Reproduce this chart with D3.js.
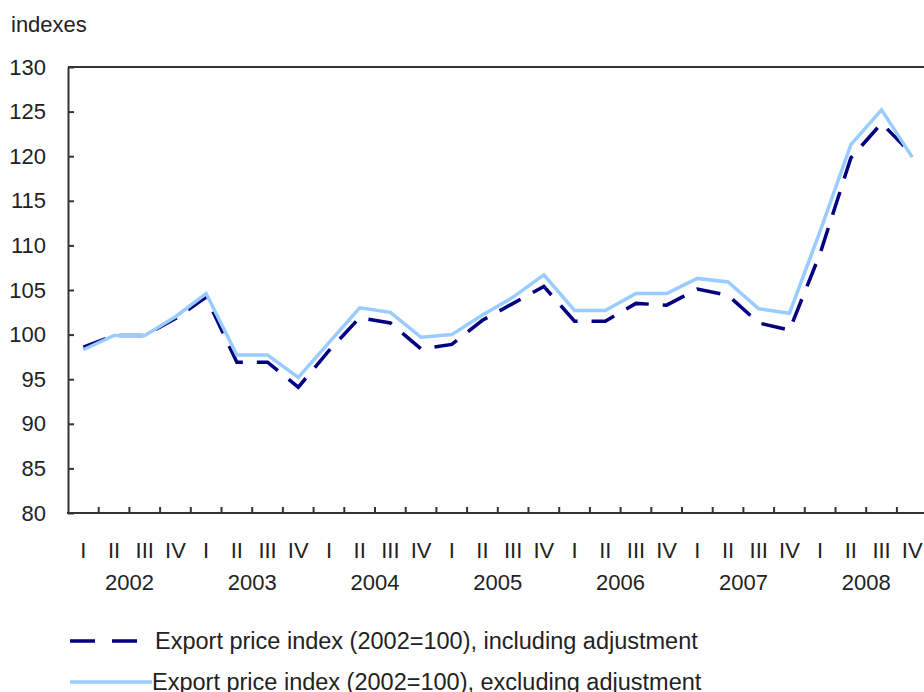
<!DOCTYPE html>
<html>
<head>
    <meta charset="utf-8">
    <script src="https://d3js.org/d3.v7.min.js"></script>
    <style type="text/css">
        body { margin: 0; background: #fff; }
        svg text { font-family: "Liberation Sans", Arial, sans-serif; fill: #222; }
    </style>
</head>
<body>
    <div id="chart"></div>

    <script type="text/javascript">
        // quarters 2002 I .. 2008 IV
        var years = ['2002', '2003', '2004', '2005', '2006', '2007', '2008'];
        var quarterNames = ['I', 'II', 'III', 'IV'];
        var yTicks = [80, 85, 90, 95, 100, 105, 110, 115, 120, 125, 130];

        var including = [98.6, 99.9, 99.9, 101.8, 104.2, 96.9, 96.9, 94.1,
                         98.2, 101.9, 101.3, 98.4, 98.9, 101.6, 103.5, 105.4,
                         101.5, 101.5, 103.5, 103.3, 105.1, 104.4, 101.3, 100.5,
                         109.1, 119.8, 123.7, 120.2];
        var excluding = [98.3, 99.9, 99.9, 102.0, 104.6, 97.7, 97.7, 95.2,
                         99.1, 103.0, 102.5, 99.7, 100.0, 102.2, 104.2, 106.7,
                         102.7, 102.7, 104.6, 104.6, 106.3, 105.9, 102.9, 102.4,
                         111.6, 121.3, 125.2, 119.9];

        var seriesNames = ['Export price index (2002=100), including adjustment',
                           'Export price index (2002=100), excluding adjustment'];

        var width = 924;
        var height = 692;
        var plotLeft = 68, plotTop = 67, plotBottom = 513;
        var band = 30.7;

        var svg = d3.select('#chart').append('svg')
            .attr('width', width)
            .attr('height', height);

        var n = including.length;

        var x = d3.scaleBand()
            .domain(d3.range(0, n))
            .range([plotLeft, plotLeft + n * band]);

        var y = d3.scaleLinear()
            .domain([80, 130])
            .range([plotBottom, plotTop]);

        // unit label
        svg.append('text')
            .attr('x', 11)
            .attr('y', 32)
            .style('font-size', '22px')
            .text('indexes');

        // y axis
        var yAxis = svg.append('g')
            .attr('transform', 'translate(' + plotLeft + ',0)')
            .call(d3.axisLeft(y).tickValues(yTicks).tickSizeInner(-6).tickSizeOuter(0).tickPadding(22));
        yAxis.select('.domain').attr('stroke', '#333').attr('stroke-width', 2);
        yAxis.selectAll('.tick line').attr('stroke', '#333').attr('stroke-width', 2);
        yAxis.selectAll('.tick text')
            .style('font-size', '22px')
            .attr('fill', '#222');

        // top frame
        svg.append('line')
            .attr('x1', plotLeft).attr('x2', width)
            .attr('y1', plotTop).attr('y2', plotTop)
            .attr('stroke', '#333').attr('stroke-width', 2);

        // bottom axis
        svg.append('line')
            .attr('x1', plotLeft - 1).attr('x2', width)
            .attr('y1', plotBottom).attr('y2', plotBottom)
            .attr('stroke', '#333').attr('stroke-width', 2);

        svg.selectAll('.xtick')
            .data(d3.range(1, n))
            .enter().append('line')
            .attr('class', 'xtick')
            .attr('x1', function(d){ return x(d); })
            .attr('x2', function(d){ return x(d); })
            .attr('y1', plotBottom)
            .attr('y2', plotBottom - 6)
            .attr('stroke', '#333').attr('stroke-width', 2);

        // quarter labels
        svg.selectAll('.qlab')
            .data(d3.range(0, n))
            .enter().append('text')
            .attr('class', 'qlab')
            .attr('x', function(d){ return x(d) + x.bandwidth() / 2; })
            .attr('y', 558)
            .attr('text-anchor', 'middle')
            .style('font-size', '22px')
            .text(function(d){ return quarterNames[d % 4]; });

        // year labels
        svg.selectAll('.ylab')
            .data(years)
            .enter().append('text')
            .attr('class', 'ylab')
            .attr('x', function(d, i){ return x(i * 4) + 2 * x.bandwidth(); })
            .attr('y', 590)
            .attr('text-anchor', 'middle')
            .style('font-size', '22px')
            .text(function(d){ return d; });

        var line = d3.line()
            .x(function(d, i){ return x(i) + x.bandwidth() / 2; })
            .y(function(d){ return y(d); });

        svg.append('path')
            .datum(including)
            .attr('d', line)
            .attr('fill', 'none')
            .attr('stroke', '#000080')
            .attr('stroke-width', 3.5)
            .attr('stroke-dasharray', '24,14');

        svg.append('path')
            .datum(excluding)
            .attr('d', line)
            .attr('fill', 'none')
            .attr('stroke', '#99ccff')
            .attr('stroke-width', 3.5);

        // legend
        var legend = svg.append('g');
        legend.append('line')
            .attr('x1', 70).attr('x2', 140)
            .attr('y1', 641).attr('y2', 641)
            .attr('stroke', '#000080').attr('stroke-width', 3.5)
            .attr('stroke-dasharray', '25,17');
        legend.append('text')
            .attr('x', 155).attr('y', 649)
            .style('font-size', '23.5px')
            .text(seriesNames[0]);
        legend.append('line')
            .attr('x1', 70).attr('x2', 152)
            .attr('y1', 682).attr('y2', 682)
            .attr('stroke', '#99ccff').attr('stroke-width', 3.5);
        legend.append('text')
            .attr('x', 152).attr('y', 690)
            .style('font-size', '23.5px')
            .text(seriesNames[1]);
    </script>
</body>
</html>
